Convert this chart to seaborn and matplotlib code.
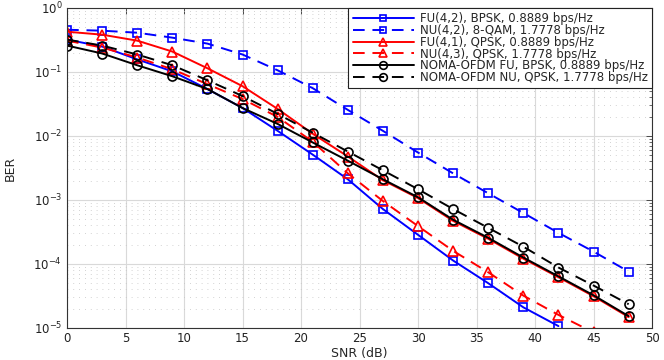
import numpy as np
import pandas as pd
import seaborn as sns
from matplotlib import pyplot as plt
from matplotlib.ticker import MultipleLocator, LogLocator, NullFormatter, NullLocator

# SNR points (dB)
snr = [0, 3, 6, 9, 12, 15, 18, 21, 24, 27, 30, 33, 36, 39, 42, 45, 48]

# BER values
ber_fu42 = [0.32, 0.249, 0.157, 0.102, 0.054, 0.0273, 0.012, 0.0051, 0.0021,
            7.2e-4, 2.85e-4, 1.13e-4, 5.0e-5, 2.1e-5, 1.07e-5]
ber_nu42 = [0.456, 0.441, 0.41, 0.343, 0.277, 0.187, 0.106, 0.0557, 0.0255,
            0.012, 0.0055, 0.0026, 0.00127, 6.25e-4, 3.06e-4, 1.56e-4, 7.6e-5]
ber_fu41 = [0.425, 0.382, 0.308, 0.208, 0.114, 0.0598, 0.0264, 0.0108, 0.00477,
            0.00203, 0.00107, 4.7e-4, 2.47e-4, 1.21e-4, 6.2e-5, 3.13e-5, 1.48e-5]
ber_nu43 = [0.308, 0.240, 0.168, 0.110, 0.0643, 0.0377, 0.0198, 0.0081, 0.0026,
            9.6e-4, 3.9e-4, 1.6e-4, 7.4e-5, 3.2e-5, 1.6e-5, 8.5e-6]
ber_noma_fu = [0.258, 0.194, 0.127, 0.0855, 0.054, 0.0273, 0.0154, 0.0079, 0.0041,
               0.0021, 0.0011, 4.9e-4, 2.56e-4, 1.26e-4, 6.4e-5, 3.24e-5, 1.53e-5]
ber_noma_nu = [0.32, 0.258, 0.187, 0.127, 0.074, 0.042, 0.0221, 0.0112, 0.0057,
               0.0029, 0.00147, 7.2e-4, 3.66e-4, 1.86e-4, 8.8e-5, 4.6e-5, 2.35e-5]

labels = ['FU(4,2), BPSK, 0.8889 bps/Hz',
          'NU(4,2), 8-QAM, 1.7778 bps/Hz',
          'FU(4,1), QPSK, 0.8889 bps/Hz',
          'NU(4,3), QPSK, 1.7778 bps/Hz',
          'NOMA-OFDM FU, BPSK, 0.8889 bps/Hz',
          'NOMA-OFDM NU, QPSK, 1.7778 bps/Hz']

series = [ber_fu42, ber_nu42, ber_fu41, ber_nu43, ber_noma_fu, ber_noma_nu]
colors = ['#0000ff', '#0000ff', '#ff0000', '#ff0000', '#000000', '#000000']
styles = ['-', (0, (6, 4)), '-', (0, (6, 4)), '-', (0, (6, 4))]
markers = ['s', 's', '^', '^', 'o', 'o']
msizes = [5.5, 5.5, 7, 7, 6.5, 6.5]

sns.set_theme(style='white')
plt.rcParams['font.family'] = ['DejaVu Sans']
plt.rcParams['mathtext.fontset'] = 'dejavusans'

f, ax = plt.subplots(figsize=(6.64, 3.6), dpi=100)
f.subplots_adjust(left=0.101, right=0.982, top=0.978, bottom=0.089)

for ber, lab, c, ls, m, ms in zip(series, labels, colors, styles, markers, msizes):
    d = pd.DataFrame({'SNR': snr[:len(ber)], 'BER': ber})
    sns.lineplot(data=d, x='SNR', y='BER', ax=ax, color=c, linestyle=ls,
                 marker=m, markersize=ms, markerfacecolor='none',
                 markeredgecolor=c, markeredgewidth=1.2, linewidth=1.4,
                 label=lab, estimator=None, sort=False)

ax.set_yscale('log')
ax.set_xlim(0, 50)
ax.set_ylim(1e-5, 1)
ax.xaxis.set_major_locator(MultipleLocator(5))
ax.xaxis.set_minor_locator(NullLocator())
ax.yaxis.set_major_locator(LogLocator(base=10, numticks=10))
ax.yaxis.set_minor_locator(LogLocator(base=10, subs=np.arange(2, 10), numticks=10))
ax.yaxis.set_minor_formatter(NullFormatter())

ax.grid(which='major', color='#d9d9d9', linewidth=0.8, linestyle='-')
ax.grid(which='minor', axis='y', color='#c4c4c4', linewidth=0.6, linestyle=(0, (1, 6)))
ax.set_axisbelow(True)

ax.tick_params(which='both', direction='in', top=True, right=True,
               colors='#333333', labelcolor='#222222', labelsize=8.5)
ax.tick_params(which='major', length=4, width=0.6)
ax.tick_params(which='minor', length=2, width=0.5)
ax.tick_params(axis='x', pad=3)
for s in ax.spines.values():
    s.set_color('#333333')
    s.set_linewidth(0.8)

ax.set_xlabel('SNR (dB)', fontsize=9, labelpad=1)
ax.set_ylabel('BER', fontsize=9)
ax.yaxis.set_label_coords(-0.086, 0.5)

leg = ax.legend(loc='upper right', fontsize=8.5, frameon=True, fancybox=False,
                edgecolor='#222222', framealpha=1, borderaxespad=0,
                handlelength=5.2, labelspacing=-0.1, borderpad=0.35,
                handletextpad=0.5, markerscale=0.85)
leg.get_frame().set_linewidth(0.8)

plt.savefig('out.png', dpi=100)
